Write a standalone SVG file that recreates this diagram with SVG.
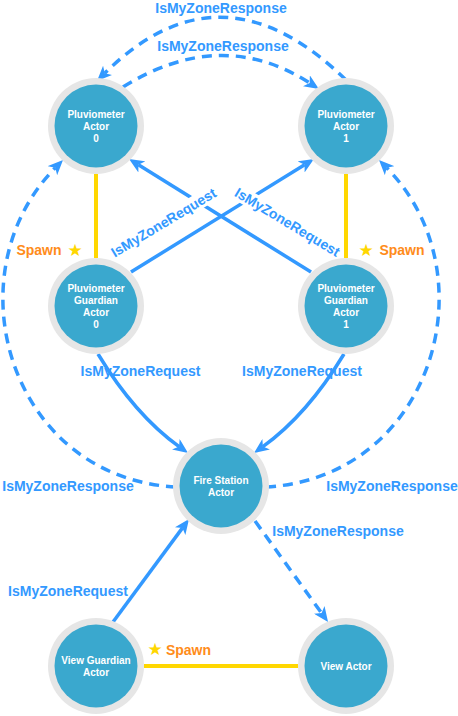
<svg xmlns="http://www.w3.org/2000/svg" width="458" height="716" viewBox="0 0 458 716">
<style>
.ring{fill:#e6e6e6}
.core{fill:#3aa8ce}
.nt{font-family:"Liberation Sans",Arial,sans-serif;font-size:10px;font-weight:bold;fill:#ffffff;text-anchor:middle}
.lbl{font-family:"Liberation Sans",Arial,sans-serif;font-size:14px;font-weight:bold;fill:#3399ff;text-anchor:middle}
.sp{font-family:"Liberation Sans",Arial,sans-serif;font-size:14px;font-weight:bold;fill:#ff8c1a;text-anchor:middle}
.star{font-family:"DejaVu Sans",sans-serif;font-size:17px;fill:#ffd700;text-anchor:middle}
.req{fill:none;stroke:#3399ff;stroke-width:3.5}
.resp{fill:none;stroke:#3399ff;stroke-width:3.5;stroke-dasharray:10 7}
.spawn{fill:none;stroke:#ffd700;stroke-width:4}
.bg{fill:#ffffff}
</style>
<defs>
<marker id="arr" viewBox="0 0 15 13" refX="4" refY="6.5" markerWidth="15" markerHeight="13" markerUnits="userSpaceOnUse" orient="auto">
<path d="M0,0 L15,6.5 L0,13 L4,6.5 z" fill="#3399ff" stroke="none"/>
</marker>
</defs>
<rect width="458" height="716" fill="#ffffff"/>
<g id="connectors">
<line class="spawn" x1="96" y1="174" x2="96" y2="258"/>
<line class="spawn" x1="346" y1="174" x2="346" y2="258"/>
<line class="spawn" x1="144" y1="666" x2="298" y2="666"/>
<path class="resp" d="M346,80 Q221,-42 104.8,73.2" marker-end="url(#arr)"/>
<path class="resp" d="M123,87 Q221,26 309.7,83" marker-end="url(#arr)"/>
<path class="req" d="M131,272 L304.6,164.8" marker-end="url(#arr)"/>
<path class="req" d="M311,272 L138.4,164.8" marker-end="url(#arr)"/>
<path class="req" d="M98,354 Q135,415 179.1,446.6" marker-end="url(#arr)"/>
<path class="req" d="M344,354 Q307,415 262.9,446.6" marker-end="url(#arr)"/>
<path class="resp" d="M176,487 C10,478 -50,275 55.3,167.8" marker-end="url(#arr)"/>
<path class="resp" d="M266,487 C432,478 492,275 386.7,167.8" marker-end="url(#arr)"/>
<path class="req" d="M113,622 L182.5,527.9" marker-end="url(#arr)"/>
<path class="resp" d="M255,521 L321.6,613.1" marker-end="url(#arr)"/>
<text class="lbl" x="221" y="13">IsMyZoneResponse</text>
<text class="lbl" x="223" y="51">IsMyZoneResponse</text>
<g transform="translate(163.5,222.5) rotate(-31)">
<rect class="bg" x="-61" y="-8" width="122" height="16"/>
<text class="lbl" x="0" y="5">IsMyZoneRequest</text>
</g>
<g transform="translate(287.5,222) rotate(31)">
<rect class="bg" x="-61" y="-8" width="122" height="16"/>
<text class="lbl" x="0" y="5">IsMyZoneRequest</text>
</g>
<text class="lbl" x="140.5" y="376">IsMyZoneRequest</text>
<text class="lbl" x="302" y="376">IsMyZoneRequest</text>
<text class="lbl" x="68" y="491">IsMyZoneResponse</text>
<text class="lbl" x="392" y="491">IsMyZoneResponse</text>
<text class="lbl" x="338" y="536">IsMyZoneResponse</text>
<text class="lbl" x="68" y="596">IsMyZoneRequest</text>
<text class="sp" x="39" y="255">Spawn</text>
<text class="star" x="75" y="256">★</text>
<text class="star" x="366" y="256">★</text>
<text class="sp" x="402" y="255">Spawn</text>
<text class="star" x="155" y="655">★</text>
<text class="sp" x="188.5" y="655">Spawn</text>
</g>
<g id="pluv0">
<circle class="ring" cx="96" cy="126" r="48"/><circle class="core" cx="96" cy="126" r="41.5"/>
<text class="nt" x="96" y="118">Pluviometer</text><text class="nt" x="96" y="130">Actor</text><text class="nt" x="96" y="142">0</text>
</g>
<g id="pluv1">
<circle class="ring" cx="346" cy="126" r="48"/><circle class="core" cx="346" cy="126" r="41.5"/>
<text class="nt" x="346" y="118">Pluviometer</text><text class="nt" x="346" y="130">Actor</text><text class="nt" x="346" y="142">1</text>
</g>
<g id="guardian0">
<circle class="ring" cx="96" cy="306" r="48"/><circle class="core" cx="96" cy="306" r="41.5"/>
<text class="nt" x="96" y="292">Pluviometer</text><text class="nt" x="96" y="304">Guardian</text><text class="nt" x="96" y="316">Actor</text><text class="nt" x="96" y="328">0</text>
</g>
<g id="guardian1">
<circle class="ring" cx="346" cy="306" r="48"/><circle class="core" cx="346" cy="306" r="41.5"/>
<text class="nt" x="346" y="292">Pluviometer</text><text class="nt" x="346" y="304">Guardian</text><text class="nt" x="346" y="316">Actor</text><text class="nt" x="346" y="328">1</text>
</g>
<g id="firestation">
<circle class="ring" cx="221" cy="486" r="48"/><circle class="core" cx="221" cy="486" r="41.5"/>
<text class="nt" x="221" y="484">Fire Station</text><text class="nt" x="221" y="496">Actor</text>
</g>
<g id="viewguardian">
<circle class="ring" cx="96" cy="666" r="48"/><circle class="core" cx="96" cy="666" r="41.5"/>
<text class="nt" x="96" y="664">View Guardian</text><text class="nt" x="96" y="676">Actor</text>
</g>
<g id="viewactor">
<circle class="ring" cx="346" cy="666" r="48"/><circle class="core" cx="346" cy="666" r="41.5"/>
<text class="nt" x="346" y="670">View Actor</text>
</g>
</svg>
